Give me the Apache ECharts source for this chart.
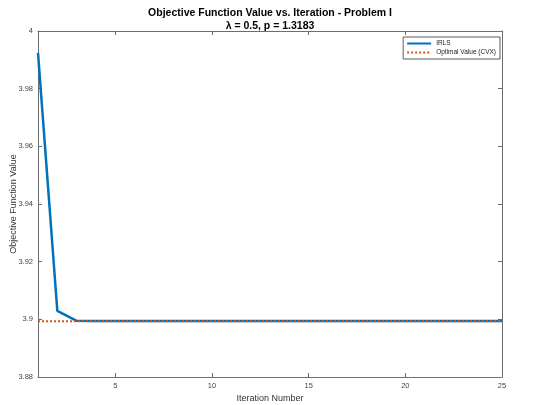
<!DOCTYPE html>
<html>
<head>
<meta charset="utf-8">
<script src="https://cdn.jsdelivr.net/npm/echarts@6/dist/echarts.min.js"></script>
<style>html,body{margin:0;padding:0;background:#fff}#c{width:540px;height:405px}</style>
</head>
<body>
<div id="c"></div>
<script>
var iterations = [1,2,3,4,5,6,7,8,9,10,11,12,13,14,15,16,17,18,19,20,21,22,23,24,25];
var irlsValues = [3.9924,3.9029,3.8995,3.8994,3.8994,3.8994,3.8994,3.8994,3.8994,3.8994,3.8994,3.8994,3.8994,3.8994,3.8994,3.8994,3.8994,3.8994,3.8994,3.8994,3.8994,3.8994,3.8994,3.8994,3.8994];
var optimalValue = 3.8993;
var xTickValues = [5,10,15,20,25];
var yTickValues = [3.88,3.9,3.92,3.94,3.96,3.98,4];

var irlsData = iterations.map(function(x,i){return [x, irlsValues[i]];});
var optData = iterations.map(function(x){return [x, optimalValue];});

var axisColor = '#6e6e6e';
var font = 'Liberation Sans, Arial, sans-serif';
var chart = echarts.init(document.getElementById('c'), null, {renderer:'canvas'});
var baseX = {
  type:'value', min:1, max:25,
  axisLine:{show:true, lineStyle:{color:axisColor, width:1}},
  axisTick:{show:true, inside:true, length:4, customValues:xTickValues, lineStyle:{color:axisColor}},
  splitLine:{show:false}
};
var baseY = {
  type:'value', min:3.88, max:4, interval:0.02,
  axisLine:{show:true, lineStyle:{color:axisColor, width:1}},
  axisTick:{show:true, inside:true, length:4, lineStyle:{color:axisColor}},
  splitLine:{show:false}
};
chart.setOption({
  animation:false,
  backgroundColor:'#fff',
  title:{
    text:'Objective Function Value vs. Iteration - Problem I',
    subtext:'λ = 0.5, p = 1.3183',
    left:'center', top:3, itemGap:2,
    textStyle:{fontFamily:font, fontSize:10.5, fontWeight:'bold', color:'#000'},
    subtextStyle:{fontFamily:font, fontSize:10.5, fontWeight:'bold', color:'#000'}
  },
  grid:{left:38, right:38, top:31, bottom:28, containLabel:false, outerBoundsMode:'none'},
  legend:{
    right:40, top:37, orient:'vertical', itemGap:2, itemWidth:24, itemHeight:8,
    borderColor:'#333', borderWidth:0.8, padding:[3,4,3,3],
    backgroundColor:'#fff',
    itemStyle:{opacity:0},
    textStyle:{fontFamily:font, fontSize:6.5, color:'#222'},
    data:['IRLS','Optimal Value (CVX)']
  },
  xAxis:[
    Object.assign({}, baseX, {
      position:'bottom',
      name:'Iteration Number', nameLocation:'middle', nameGap:17, nameMoveOverlap:false,
      nameTextStyle:{fontFamily:font, fontSize:9, color:'#333'},
      axisLabel:{show:true, customValues:xTickValues, fontFamily:font, fontSize:7.5, color:'#444', margin:5}
    }),
    Object.assign({}, baseX, {position:'top', axisLabel:{show:false}})
  ],
  yAxis:[
    Object.assign({}, baseY, {
      position:'left',
      name:'Objective Function Value', nameLocation:'middle', nameGap:20, nameMoveOverlap:false,
      nameTextStyle:{fontFamily:font, fontSize:9, color:'#333'},
      axisLabel:{show:true, fontFamily:font, fontSize:7.5, color:'#444', margin:5,
        formatter:function(v){return String(parseFloat(v.toFixed(4)));}}
    }),
    Object.assign({}, baseY, {position:'right', axisLabel:{show:false}})
  ],
  series:[
    {name:'IRLS', type:'line', data:irlsData, symbol:'none', z:3,
     lineStyle:{color:'#0072BD', width:2.5}, itemStyle:{color:'#0072BD'}},
    {name:'Optimal Value (CVX)', type:'line', data:optData, symbol:'none', z:4,
     lineStyle:{color:'#D95319', width:2, type:[2,2]}, itemStyle:{color:'#D95319'}}
  ]
});
</script>
</body>
</html>
